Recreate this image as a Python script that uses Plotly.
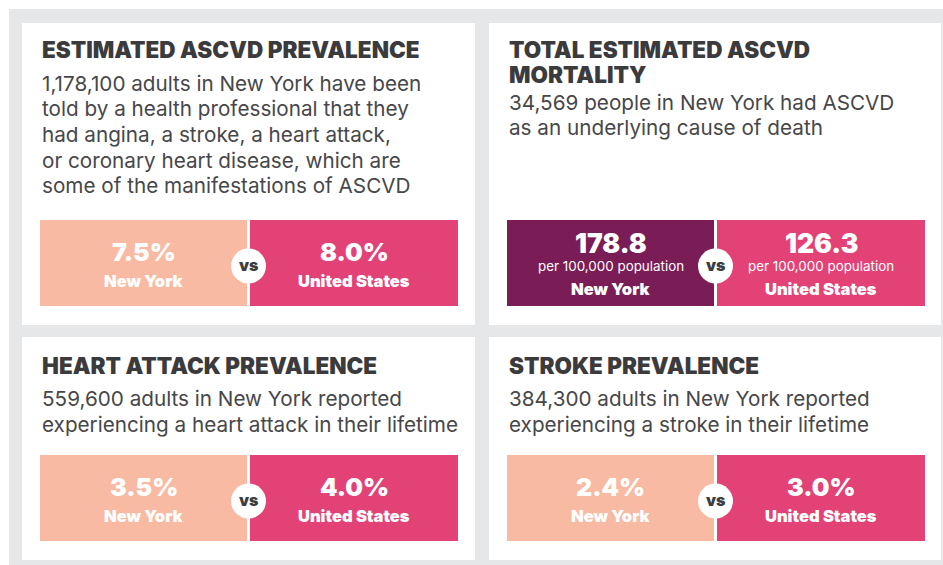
import plotly.graph_objects as go

# ---------------- data ----------------
titles = [
    ["ESTIMATED ASCVD PREVALENCE"],
    ["TOTAL ESTIMATED ASCVD", "MORTALITY"],
    ["HEART ATTACK PREVALENCE"],
    ["STROKE PREVALENCE"],
]
descriptions = [
    ["1,178,100 adults in New York have been",
     "told by a health professional that they",
     "had angina, a stroke, a heart attack,",
     "or coronary heart disease, which are",
     "some of the manifestations of ASCVD"],
    ["34,569 people in New York had ASCVD",
     "as an underlying cause of death"],
    ["559,600 adults in New York reported",
     "experiencing a heart attack in their lifetime"],
    ["384,300 adults in New York reported",
     "experiencing a stroke in their lifetime"],
]
ny_values = [7.5, 178.8, 3.5, 2.4]
us_values = [8.0, 126.3, 4.0, 3.0]
value_units = ["%", "", "%", "%"]
value_notes = ["", "per 100,000 population", "", ""]
place_labels = ["New York", "United States"]
vs_label = "vs"

# ---------------- style ----------------
W, H = 943, 565
BG = "#E6E7E9"
PEACH = "#F8BAA2"
PINK = "#E34277"
PURPLE = "#7A1D57"
TITLE_C = "#3B3B3D"
BODY_C = "#474749"
ny_colors = [PEACH, PURPLE, PEACH, PEACH]
us_colors = [PINK, PINK, PINK, PINK]

panels = [(22, 23, 475, 325), (489, 23, 941, 325), (22, 337, 475, 560), (489, 337, 941, 560)]
box_tops = [220, 220, 455, 455]
box_h = 86
title_offsets = [26.5, 26.5, 28, 28]
body_first = [83, 102, 398.5, 398.5]
body_step = 25.7
title_step = 24.5

FONT = "Inter"

shapes = []
annotations = []

# outer gray background
shapes.append(dict(type="rect", x0=9, y0=9, x1=W, y1=H, fillcolor=BG, line_width=0, layer="below"))

def ann(x, y, text, size, color, weight=400, xanchor="left"):
    annotations.append(dict(
        x=x, y=y, xref="x", yref="y", text=text, showarrow=False,
        xanchor=xanchor, yanchor="middle",
        font=dict(family=FONT, size=size, color=color, weight=weight),
    ))

for i, (px0, py0, px1, py1) in enumerate(panels):
    shapes.append(dict(type="rect", x0=px0, y0=py0, x1=px1, y1=py1,
                       fillcolor="white", line_width=0, layer="below"))
    tx = px0 + 18
    for j, line in enumerate(titles[i]):
        ann(tx, py0 + title_offsets[i] + j * title_step, line, 22.5, TITLE_C, 900)
    for j, line in enumerate(descriptions[i]):
        ann(tx, body_first[i] + j * body_step, line, 20.7, BODY_C, 400)

    bx0 = px0 + 18
    split = px0 + 226.5
    bx1 = px0 + 436
    by0 = box_tops[i]
    by1 = by0 + box_h
    shapes.append(dict(type="rect", x0=bx0, y0=by0, x1=split - 1.5, y1=by1,
                       fillcolor=ny_colors[i], line_width=0, layer="below"))
    shapes.append(dict(type="rect", x0=split + 1.5, y0=by0, x1=bx1, y1=by1,
                       fillcolor=us_colors[i], line_width=0, layer="below"))

    centers = [(bx0 + split - 1.5) / 2, (split + 1.5 + bx1) / 2]
    vals = [ny_values[i], us_values[i]]
    for k in range(2):
        vtxt = f"{vals[k]:.1f}{value_units[i]}"
        if value_notes[i]:
            ann(centers[k], by0 + 23, vtxt, 26.5, "white", 900, "center")
            ann(centers[k], by0 + 46, value_notes[i], 13.4, "white", 400, "center")
            ann(centers[k], by0 + 68.5, place_labels[k], 16.5, "white", 900, "center")
        else:
            ann(centers[k], by0 + 32, vtxt, 25, "white", 900, "center")
            ann(centers[k], by0 + 60.5, place_labels[k], 16.5, "white", 900, "center")

    cy = by0 + box_h / 2 + 3
    r = 17.5
    shapes.append(dict(type="circle", x0=split - r, y0=cy - r, x1=split + r, y1=cy + r,
                       fillcolor="white", line_width=0, layer="above"))
    ann(split, cy - 1, vs_label, 16, "#3D3D3F", 900, "center")

fig = go.Figure()
fig.update_layout(
    width=W, height=H,
    margin=dict(l=0, r=0, t=0, b=0),
    paper_bgcolor="white", plot_bgcolor="white",
    xaxis=dict(range=[0, W], visible=False, fixedrange=True),
    yaxis=dict(range=[H, 0], visible=False, fixedrange=True),
    shapes=shapes, annotations=annotations,
    showlegend=False,
)
fig.write_html("out.html", config={"displayModeBar": False},
               post_script="document.body.style.margin='0px';")
